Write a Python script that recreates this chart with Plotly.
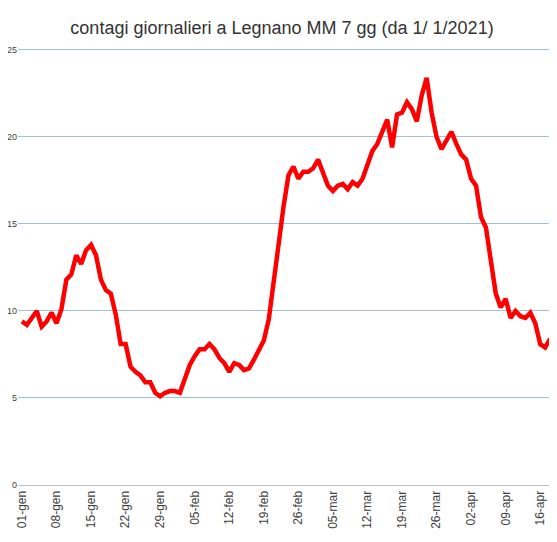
import plotly.graph_objects as go

# media mobile 7 giorni, contagi giornalieri Legnano dal 1/1/2021
valori = [9.4, 9.2, 9.6, 10.0, 9.1, 9.4, 9.9, 9.3, 10.1, 11.8,
          12.1, 13.2, 12.7, 13.5, 13.8, 13.2, 11.8, 11.2, 11.0, 9.8,
          8.1, 8.1, 6.8, 6.5, 6.3, 5.9, 5.9, 5.3, 5.1, 5.3,
          5.4, 5.4, 5.3, 6.2, 6.9, 7.4, 7.8, 7.8, 8.1, 7.8,
          7.3, 7.0, 6.5, 7.0, 6.9, 6.6, 6.7, 7.2, 7.8, 8.3,
          9.5, 11.8, 14.0, 16.0, 17.8, 18.3, 17.6, 18.0, 18.0, 18.2,
          18.7, 17.9, 17.2, 16.9, 17.2, 17.3, 17.0, 17.4, 17.2, 17.6,
          18.5, 19.2, 19.6, 20.3, 21.0, 19.4, 21.3, 21.4, 22.0, 21.6,
          20.9, 22.4, 23.4, 21.4, 20.0, 19.3, 19.8, 20.3, 19.6, 19.0,
          18.7, 17.6, 17.2, 15.4, 14.8, 12.8, 11.0, 10.2, 10.7, 9.6,
          10.0, 9.7, 9.6, 9.9, 9.3, 8.1, 7.9, 8.4]
giorni = list(range(len(valori)))

tick_giorni = [0, 7, 14, 21, 28, 35, 42, 49, 56, 63, 70, 77, 84, 91, 98, 105]
tick_label = ["01-gen", "08-gen", "15-gen", "22-gen", "29-gen", "05-feb", "12-feb", "19-feb",
              "26-feb", "05-mar", "12-mar", "19-mar", "26-mar", "02-apr", "09-apr", "16-apr"]

fig = go.Figure(go.Scatter(x=giorni, y=valori, mode="lines",
                           line=dict(color="#ff0000", width=4.5)))

fig.update_layout(
    width=548, height=535,
    margin=dict(l=10, r=0, t=35, b=58),
    paper_bgcolor="white", plot_bgcolor="white",
    font=dict(family="Liberation Sans, Arial", color="#404040"),
    title=dict(text="contagi giornalieri a Legnano MM 7 gg (da 1/ 1/2021)",
               x=0.5, xanchor="center", y=0.975, font=dict(size=18, color="#333333")),
    showlegend=False,
)
fig.update_xaxes(range=[-0.8, 108.2], tickvals=tick_giorni, ticktext=tick_label,
                 tickangle=-90, tickfont=dict(size=12), showgrid=False, automargin=False,
                 showline=True, linecolor="#bfbfbf", zeroline=False)
fig.update_yaxes(range=[0, 25.4], tickvals=[0, 5, 10, 15, 20, 25], tickfont=dict(size=9),
                 showgrid=True, gridcolor="#9ec3d6", zeroline=False, ticks="", automargin=False)

fig.write_html("out.html")
